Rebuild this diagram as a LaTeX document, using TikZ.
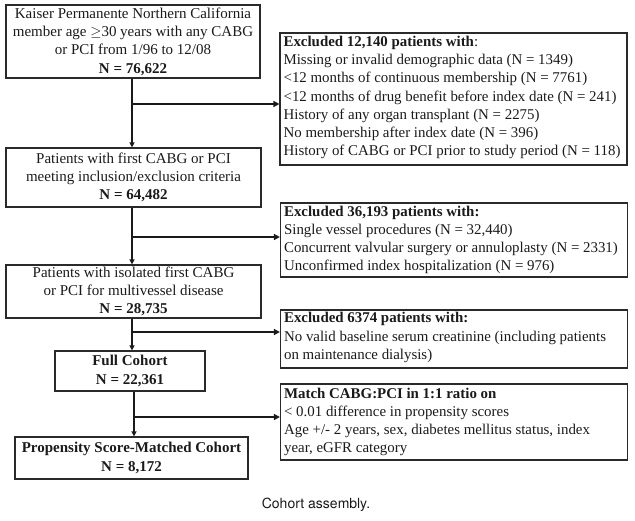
\documentclass[tikz,border=0pt]{standalone}
\usepackage{fontspec}
\setmainfont{Liberation Serif}
\newfontfamily\capfont{TeX Gyre Heros}
\usetikzlibrary{arrows.meta,calc}
\definecolor{bord}{HTML}{2A2A2A}
\definecolor{ink}{HTML}{1A1A1A}
\tikzset{
  mainbox/.style={draw=bord, line width=1.2pt, rectangle, inner sep=0pt, align=center,
    font=\fontsize{15}{18.3}\selectfont, text=ink},
  exbox/.style={draw=bord, line width=1.2pt, rectangle, inner sep=0pt, minimum width=347pt},
  extext/.style={anchor=west, inner sep=0pt, align=left,
    font=\fontsize{14.9}{18.2}\selectfont, text=ink},
  vflow/.style={draw=ink, line width=1.4pt, -{Triangle[length=5pt,width=5pt]}},
  hflow/.style={draw=ink, line width=2pt, -{Triangle[length=6pt,width=6pt]}},
}
\begin{document}
\begin{tikzpicture}[x=1pt,y=-1pt]
\useasboundingbox (0,0) rectangle (635,520);
% main column
\node[mainbox, minimum width=254pt, minimum height=73pt] (b1) at (133,41.5)
  {Kaiser Permanente Northern California\\member age $\geq$30 years with any CABG\\or PCI from 1/96 to 12/08\\\textbf{N = 76,622}};
\node[mainbox, minimum width=255pt, minimum height=59pt] (b2) at (133.5,177.5)
  {Patients with first CABG or PCI\\meeting inclusion/exclusion criteria\\\textbf{N = 64,482}};
\node[mainbox, minimum width=255pt, minimum height=53pt] (b3) at (133.5,291.5)
  {Patients with isolated first CABG\\or PCI for multivessel disease\\\textbf{N = 28,735}};
\node[mainbox, minimum width=150pt, minimum height=40pt] (b4) at (130,371)
  {\textbf{Full Cohort}\\\textbf{N = 22,361}};
\node[mainbox, minimum width=233pt, minimum height=42pt] (b5) at (131.5,458)
  {\textbf{Propensity Score-Matched Cohort}\\\textbf{N = 8,172}};
% exclusion boxes
\node[exbox, minimum height=132pt] (e1) at (453.5,99) {};
\node[extext] (e1t) at ([xshift=4pt,yshift=1.5pt]e1.west)
  {\textbf{Excluded 12,140 patients with}:\\Missing or invalid demographic data (N = 1349)\\<12 months of continuous membership (N = 7761)\\<12 months of drug benefit before index date (N = 241)\\History of any organ transplant (N = 2275)\\No membership after index date (N = 396)\\History of CABG or PCI prior to study period (N = 118)};
\node[exbox, minimum height=74pt] (e2) at (454,240) {};
\node[extext] (e2t) at ([xshift=4pt]e2.west)
  {\textbf{Excluded 36,193 patients with:}\\Single vessel procedures (N = 32,440)\\Concurrent valvular surgery or annuloplasty (N = 2331)\\Unconfirmed index hospitalization (N = 976)};
\node[exbox, minimum height=58pt] (e3) at (454,339) {};
\node[extext] (e3t) at ([xshift=4pt,yshift=1.5pt]e3.west)
  {\textbf{Excluded 6374 patients with:}\\No valid baseline serum creatinine (including patients\\on maintenance dialysis)};
\node[exbox, minimum height=76pt] (e4) at (454,422) {};
\node[extext] (e4t) at ([xshift=4pt]e4.west)
  {\textbf{Match CABG:PCI in 1:1 ratio on}\\< 0.01 difference in propensity scores\\Age +/- 2 years, sex, diabetes mellitus status, index\\year, eGFR category};
% caption
\node[font=\capfont\fontsize{14}{16}\selectfont, text=ink] (cap) at (316,505) {Cohort assembly.};
% trunk coordinates
\coordinate (t) at (132,0);
\coordinate (j1) at (132,104);
\coordinate (j2) at (132,237);
\coordinate (j3) at (132,332);
\coordinate (j4) at (134,417);
% vertical flow
\draw[vflow] (b1.south -| t) -- (b2.north -| t);
\draw[vflow] (b2.south -| t) -- (b3.north -| t);
\draw[vflow] (b3.south -| t) -- (b4.north -| t);
\draw[vflow] (b4.south -| j4) -- (b5.north -| j4);
% horizontal branches
\draw[hflow] (j1) -- (j1 -| e1.west);
\draw[hflow] (j2) -- (j2 -| e2.west);
\draw[hflow] (j3) -- (j3 -| e3.west);
\draw[hflow] (j4) -- (j4 -| e4.west);
\end{tikzpicture}
\end{document}
